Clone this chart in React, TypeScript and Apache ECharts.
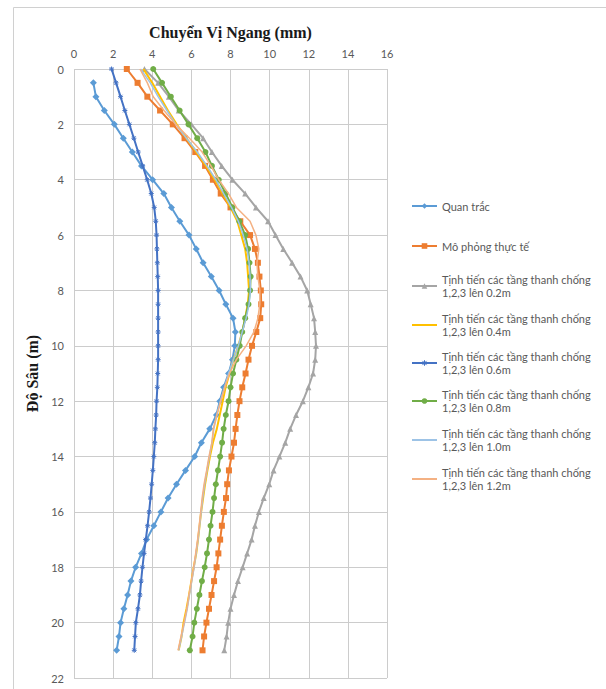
import React, { useEffect, useRef } from "react";
import * as echarts from "echarts";

// Depth (m)
const DEPTHS = [0, 0.5, 1, 1.5, 2, 2.5, 3, 3.5, 4, 4.5, 5, 5.5, 6, 6.5, 7, 7.5, 8, 8.5, 9, 9.5, 10, 10.5, 11, 11.5, 12, 12.5, 13, 13.5, 14, 14.5, 15, 15.5, 16, 16.5, 17, 17.5, 18, 18.5, 19, 19.5, 20, 20.5, 21];
const DEPTHS_OBS = [0.5, 1, 1.5, 2, 2.5, 3, 3.5, 4, 4.5, 5, 5.5, 6, 6.5, 7, 7.5, 8, 8.5, 9, 9.5, 10, 10.5, 11, 11.5, 12, 12.5, 13, 13.5, 14, 14.5, 15, 15.5, 16, 16.5, 17, 17.5, 18, 18.5, 19, 19.5, 20, 20.5, 21];

// Horizontal displacement (mm)
const QUAN_TRAC = [0.99, 1.12, 1.55, 2.06, 2.52, 2.98, 3.45, 4.02, 4.59, 4.98, 5.41, 5.88, 6.25, 6.6, 7.02, 7.42, 7.76, 8.13, 8.25, 8.22, 8.1, 7.9, 7.65, 7.45, 7.28, 6.94, 6.51, 6.17, 5.7, 5.24, 4.81, 4.44, 4.08, 3.71, 3.45, 3.15, 2.91, 2.74, 2.55, 2.38, 2.3, 2.18];
const MO_PHONG = [2.7, 3.25, 3.75, 4.4, 5.05, 5.65, 6.2, 6.7, 7.1, 7.5, 8.0, 8.5, 9.0, 9.25, 9.4, 9.48, 9.55, 9.57, 9.52, 9.32, 9.1, 8.92, 8.77, 8.6, 8.46, 8.35, 8.26, 8.18, 8.05, 7.92, 7.83, 7.77, 7.66, 7.56, 7.47, 7.38, 7.29, 7.16, 7.03, 6.9, 6.77, 6.65, 6.57];
const TT_02 = [3.6, 4.3, 4.85, 5.35, 6.0, 6.6, 7.05, 7.55, 8.1, 8.75, 9.3, 9.92, 10.3, 10.7, 11.15, 11.58, 11.92, 12.1, 12.27, 12.33, 12.37, 12.33, 12.22, 11.98, 11.7, 11.35, 11.05, 10.8, 10.5, 10.2, 9.98, 9.7, 9.45, 9.25, 9.08, 8.85, 8.62, 8.38, 8.18, 8.0, 7.88, 7.8, 7.68];
const TT_04 = [3.55, 4.0, 4.4, 4.8, 5.25, 5.75, 6.25, 6.75, 7.2, 7.6, 8.0, 8.35, 8.55, 8.75, 8.85, 8.9, 8.95, 8.88, 8.75, 8.6, 8.4, 8.15, 7.95, 7.75, 7.6, 7.45, 7.3, 7.1, 6.95, 6.82, 6.7, 6.6, 6.5, 6.42, 6.34, 6.25, 6.12, 6.0, 5.88, 5.75, 5.6, 5.5, 5.35];
const TT_06 = [1.92, 2.15, 2.38, 2.6, 2.83, 3.06, 3.28, 3.51, 3.74, 3.95, 4.1, 4.18, 4.22, 4.24, 4.26, 4.28, 4.3, 4.3, 4.3, 4.3, 4.3, 4.3, 4.28, 4.26, 4.22, 4.2, 4.16, 4.13, 4.08, 4.03, 3.97, 3.91, 3.84, 3.76, 3.67, 3.58, 3.5, 3.43, 3.37, 3.27, 3.16, 3.12, 3.08];
const TT_08 = [4.05, 4.5, 4.95, 5.4, 5.85, 6.3, 6.72, 7.05, 7.4, 7.75, 8.1, 8.45, 8.75, 8.9, 8.97, 9.03, 9.0, 8.92, 8.75, 8.6, 8.47, 8.3, 8.13, 8.0, 7.9, 7.76, 7.65, 7.57, 7.47, 7.36, 7.25, 7.16, 7.08, 6.98, 6.9, 6.8, 6.68, 6.54, 6.41, 6.28, 6.15, 6.06, 5.92];
const TT_10 = [3.4, 3.9, 4.3, 4.75, 5.2, 5.75, 6.3, 6.8, 7.25, 7.65, 8.05, 8.4, 8.65, 8.85, 8.95, 9.0, 9.02, 8.95, 8.8, 8.6, 8.4, 8.15, 7.9, 7.7, 7.48, 7.3, 7.15, 7.05, 6.92, 6.8, 6.68, 6.58, 6.5, 6.42, 6.34, 6.24, 6.14, 6.02, 5.9, 5.79, 5.65, 5.5, 5.35];
const TT_12 = [3.37, 3.75, 4.05, 4.6, 5.2, 5.9, 6.55, 7.0, 7.4, 7.9, 8.3, 9.0, 9.3, 9.45, 9.35, 9.4, 9.5, 9.5, 9.4, 9.2, 8.8, 8.3, 7.95, 7.7, 7.5, 7.3, 7.12, 7.05, 6.9, 6.78, 6.65, 6.55, 6.48, 6.4, 6.32, 6.22, 6.12, 6.0, 5.88, 5.77, 5.63, 5.47, 5.32];

const SERIES_NAMES = [
  "Quan trắc",
  "Mô phỏng thực tế",
  "Tịnh tiến các tầng thanh chống 1,2,3 lên 0.2m",
  "Tịnh tiến các tầng thanh chống 1,2,3 lên 0.4m",
  "Tịnh tiến các tầng thanh chống 1,2,3 lên 0.6m",
  "Tịnh tiến các tầng thanh chống 1,2,3 lên 0.8m",
  "Tịnh tiến các tầng thanh chống 1,2,3 lên 1.0m",
  "Tịnh tiến các tầng thanh chống 1,2,3 lên 1.2m",
];

const X_TICKS = [0, 2, 4, 6, 8, 10, 12, 14, 16];
const Y_TICKS = [0, 2, 4, 6, 8, 10, 12, 14, 16, 18, 20, 22];

const pair = (vals: number[], depths: number[]) => vals.map((v, i) => [v, depths[i]]);

export default function App() {
  const ref = useRef<HTMLDivElement>(null);
  useEffect(() => {
    document.body.style.margin = "0";
    if (!ref.current) return;
    const chart = echarts.init(ref.current, null, { renderer: "svg" });
    const font = "Lato, 'Liberation Sans', sans-serif";
    const plusPath = "path://M0,4L8,4M4,0L4,8M1,1L7,7M7,1L1,7";

    const specs = [
      { vals: QUAN_TRAC, depths: DEPTHS_OBS, color: "#5B9BD5", symbol: "diamond", size: 7, width: 2 },
      { vals: MO_PHONG, depths: DEPTHS, color: "#ED7D31", symbol: "rect", size: 6, width: 2 },
      { vals: TT_02, depths: DEPTHS, color: "#A5A5A5", symbol: "triangle", size: 6, width: 2 },
      { vals: TT_04, depths: DEPTHS, color: "#FFC000", symbol: "none", size: 0, width: 2 },
      { vals: TT_06, depths: DEPTHS, color: "#4472C4", symbol: plusPath, size: 5, width: 2 },
      { vals: TT_08, depths: DEPTHS, color: "#70AD47", symbol: "circle", size: 6, width: 2 },
      { vals: TT_10, depths: DEPTHS, color: "#9DC3E6", symbol: "none", size: 0, width: 1.5 },
      { vals: TT_12, depths: DEPTHS, color: "#F4B183", symbol: "none", size: 0, width: 1.5 },
    ];

    const series = specs.map((s, i) => ({
      name: SERIES_NAMES[i],
      type: "line",
      data: pair(s.vals, s.depths),
      symbol: s.symbol,
      symbolSize: s.size,
      showSymbol: s.symbol !== "none",
      lineStyle: { color: s.color, width: s.width },
      itemStyle: {
        color: s.color,
        borderColor: s.color,
        borderWidth: s.symbol === plusPath ? 1 : 0,
      },
      emphasis: { disabled: true },
      z: 2 + i,
    }));

    const firstLineCenters = [206, 246, 286, 325, 363, 401, 440, 479];
    const legends = SERIES_NAMES.map((name, i) => {
      const two = name.indexOf(" 1,2,3") >= 0;
      const noMarker = specs[i].symbol === "none";
      const item: any = { name };
      if (two) item.textStyle = { padding: [13, 0, 0, 0] };
      if (noMarker) item.itemStyle = { color: "rgba(0,0,0,0)", borderWidth: 0, opacity: 0 };
      if (specs[i].symbol === plusPath) item.itemStyle = { borderColor: specs[i].color, borderWidth: 1 };
      return {
        left: 411,
        top: two ? firstLineCenters[i] - 19.5 : firstLineCenters[i] - 6.5,
        orient: "vertical",
        padding: 0,
        itemWidth: 25,
        itemHeight: 7,
        itemGap: 0,
        selectedMode: false,
        formatter: (n: string) => n.replace(" 1,2,3", "\n1,2,3"),
        textStyle: { fontFamily: font, fontSize: 11, color: "#595959", lineHeight: 13 },
        data: [item],
      };
    });

    chart.setOption({
      animation: false,
      backgroundColor: "#ffffff",
      graphic: [
        {
          type: "rect",
          shape: { x: 13.5, y: 7.5, width: 620, height: 700 },
          style: { fill: "none", stroke: "#D0D0D0", lineWidth: 1 },
          silent: true,
          z: -1,
        },
      ],
      grid: { left: 74, top: 69, width: 313, height: 609 },
      legend: legends,
      xAxis: {
        type: "value",
        position: "top",
        min: X_TICKS[0],
        max: X_TICKS[X_TICKS.length - 1],
        interval: 2,
        name: "Chuyển Vị Ngang (mm)",
        nameLocation: "middle",
        nameGap: 29,
        nameTextStyle: { fontFamily: "'Liberation Serif', serif", fontWeight: "bold", fontSize: 16, color: "#1a1a1a" },
        axisLine: { show: false },
        axisTick: { show: false },
        axisLabel: { fontFamily: font, fontSize: 11, color: "#595959", margin: 10 },
        splitLine: { show: true, lineStyle: { color: "#CCCCCC", width: 1 } },
      },
      yAxis: {
        type: "value",
        inverse: true,
        min: Y_TICKS[0],
        max: Y_TICKS[Y_TICKS.length - 1],
        interval: 2,
        name: "Độ Sâu (m)",
        nameLocation: "middle",
        nameGap: 27,
        nameRotate: 90,
        nameTextStyle: { fontFamily: "'Liberation Serif', serif", fontWeight: "bold", fontSize: 16, color: "#1a1a1a" },
        axisLine: { show: false },
        axisTick: { show: false },
        axisLabel: { fontFamily: font, fontSize: 11, color: "#595959", margin: 10 },
        splitLine: { show: true, lineStyle: { color: "#CCCCCC", width: 1 } },
      },
      series,
    });
    return () => chart.dispose();
  }, []);
  return <div ref={ref} style={{ width: 606, height: 689 }} />;
}
